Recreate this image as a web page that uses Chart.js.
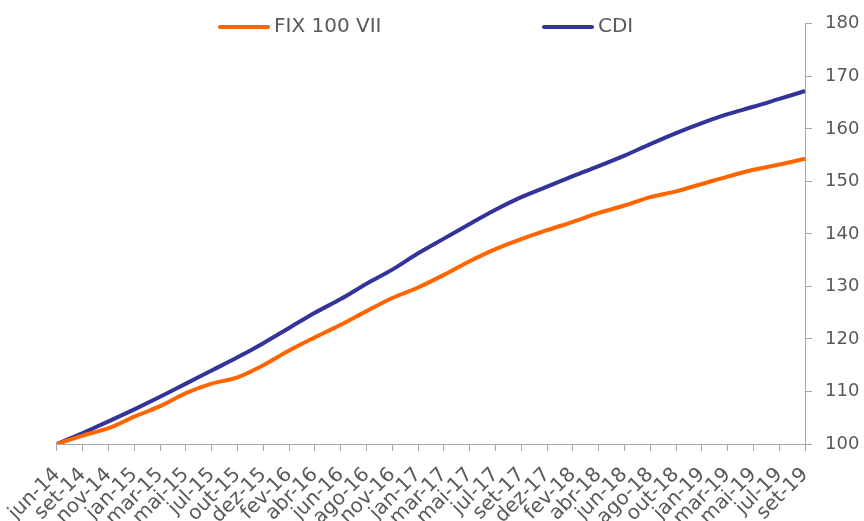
<!DOCTYPE html>
<html>
<head>
<meta charset="utf-8">
<script src="https://cdn.jsdelivr.net/npm/chart.js@4/dist/chart.umd.min.js"></script>
<style>
  html, body { margin: 0; padding: 0; background: #fff; }
  #wrap { width: 864px; height: 521px; position: relative; }
</style>
</head>
<body>
<div id="wrap"><canvas id="fixChart"></canvas></div>
<script>
(() => {
  'use strict'

  const months = [
    'jun-14', 'set-14', 'nov-14', 'jan-15', 'mar-15', 'mai-15', 'jul-15', 'out-15',
    'dez-15', 'fev-16', 'abr-16', 'jun-16', 'ago-16', 'nov-16', 'jan-17', 'mar-17',
    'mai-17', 'jul-17', 'set-17', 'dez-17', 'fev-18', 'abr-18', 'jun-18', 'ago-18',
    'out-18', 'jan-19', 'mar-19', 'mai-19', 'jul-19', 'set-19'
  ]

  const fix100 = [
    100.0, 101.6, 103.0, 105.2, 107.2, 109.7, 111.5, 112.7, 115.0, 117.8,
    120.3, 122.7, 125.3, 127.8, 129.8, 132.2, 134.8, 137.1, 139.0, 140.7,
    142.3, 144.0, 145.4, 147.0, 148.1, 149.5, 150.9, 152.2, 153.2, 154.3
  ]

  const cdi = [
    100.0, 102.1, 104.3, 106.6, 109.0, 111.5, 114.0, 116.5, 119.2, 122.1,
    125.0, 127.6, 130.5, 133.2, 136.3, 139.1, 141.9, 144.6, 147.0, 149.0,
    151.0, 152.9, 154.9, 157.1, 159.2, 161.1, 162.8, 164.2, 165.7, 167.2
  ]

  const yTicks = [100, 110, 120, 130, 140, 150, 160, 170, 180]

  const gray = '#595959'
  const axisGray = '#a6a6a6'
  Chart.defaults.font.family = "'DejaVu Sans', Verdana, sans-serif"
  Chart.defaults.font.size = 18
  Chart.defaults.color = gray

  // legend drawn by hand, spacing of the original doesn't fit chart.js legend
  const topLegend = {
    id: 'topLegend',
    afterDraw (chart) {
      const c = chart.ctx
      const spots = [218, 542]
      c.save()
      c.font = "20px 'DejaVu Sans', Verdana, sans-serif"
      c.textBaseline = 'middle'
      chart.data.datasets.forEach((ds, i) => {
        const x = spots[i]
        c.strokeStyle = ds.borderColor
        c.lineWidth = 4
        c.lineCap = 'round'
        c.beginPath()
        c.moveTo(x + 2, 27)
        c.lineTo(x + 50, 27)
        c.stroke()
        c.fillStyle = gray
        c.fillText(ds.label, x + 56, 27)
      })
      c.restore()
    }
  }

  const ctx = document.getElementById('fixChart')
  // eslint-disable-next-line no-unused-vars
  const fixChart = new Chart(ctx, {
    type: 'line',
    data: {
      labels: months,
      datasets: [
        {
          label: 'FIX 100 VII',
          data: fix100,
          borderColor: '#ff6600',
          backgroundColor: '#ff6600',
          borderWidth: 4,
          pointRadius: 0,
          cubicInterpolationMode: 'monotone'
        },
        {
          label: 'CDI',
          data: cdi,
          borderColor: '#333399',
          backgroundColor: '#333399',
          borderWidth: 4,
          pointRadius: 0,
          cubicInterpolationMode: 'monotone'
        }
      ]
    },
    options: {
      responsive: true,
      maintainAspectRatio: false,
      animation: false,
      layout: {
        padding: { left: 56, top: 22, right: 0, bottom: 0 }
      },
      plugins: {
        legend: { display: false },
        tooltip: { enabled: false }
      },
      scales: {
        x: {
          type: 'category',
          offset: false,
          grid: {
            display: true,
            drawOnChartArea: false,
            drawTicks: true,
            tickLength: 7,
            color: axisGray
          },
          border: { display: true, color: axisGray, width: 1 },
          ticks: {
            autoSkip: false,
            minRotation: 45,
            maxRotation: 45,
            padding: 12,
            color: gray,
            font: { size: 20 }
          },
          afterFit (scale) {
            scale.height = 77
          }
        },
        y: {
          position: 'right',
          min: 100,
          max: 180,
          afterBuildTicks (scale) {
            scale.ticks = yTicks.map(v => ({ value: v }))
          },
          grid: {
            display: true,
            drawOnChartArea: false,
            drawTicks: true,
            tickLength: 7,
            color: axisGray
          },
          border: { display: true, color: axisGray, width: 1 },
          ticks: {
            padding: 13,
            color: gray
          },
          afterFit (scale) {
            scale.width = 59
          }
        }
      }
    },
    plugins: [topLegend]
  })
})()
</script>
</body>
</html>
